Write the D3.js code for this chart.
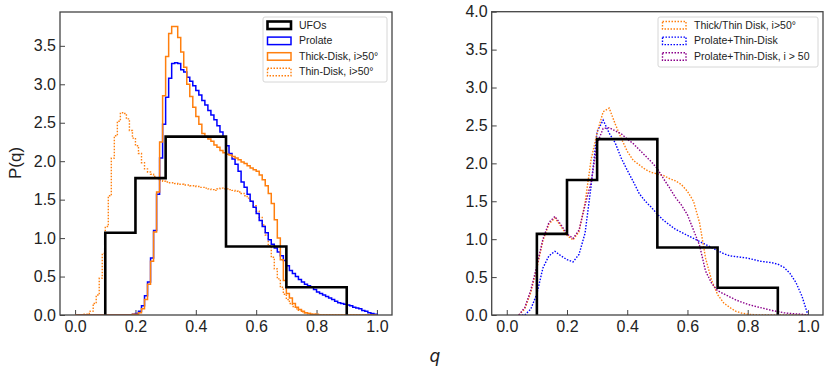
<!DOCTYPE html>
<html>
<head>
<meta charset="utf-8">
<script src="https://cdn.jsdelivr.net/npm/d3@7"></script>
<style>
  body { margin: 0; background: #fff; }
  text { font-family: "Liberation Sans", Arial, sans-serif; }
</style>
</head>
<body>
<svg id="chart" width="830" height="373"></svg>
<script>
// UFO histogram (variable bins)
const ufoEdges = [0.1, 0.2, 0.3, 0.5, 0.7, 0.9];
const ufoValues = [1.07, 1.78, 2.32, 0.89, 0.36];

// fine histograms, bins of width 0.01 from 0 to 1
const fineEdges = d3.range(101).map(i => i / 100);
const prolate = [
  0,0,0,0,0,0,0,0,0,0, 0,0,0,0,0,0,0,0,0,0.01,
  0.02,0.05,0.12,0.25,0.43,0.74,1.10,1.57,2.04,2.48,
  2.83,3.08,3.27,3.28,3.27,3.19,3.16,3.09,3.04,2.98,
  2.92,2.86,2.79,2.73,2.66,2.60,2.54,2.46,2.38,2.31,
  2.20,2.10,2.03,1.96,1.87,1.73,1.66,1.57,1.48,1.40,
  1.32,1.23,1.15,1.07,0.98,0.92,0.87,0.82,0.77,0.71,
  0.64,0.58,0.54,0.50,0.46,0.43,0.40,0.38,0.36,0.33,
  0.30,0.28,0.26,0.24,0.22,0.20,0.18,0.16,0.15,0.14,
  0.13,0.12,0.10,0.09,0.08,0.06,0.05,0.03,0.02,0.01
];
const thickDisk = [
  0,0,0,0,0,0,0,0,0,0, 0,0,0,0,0,0,0,0,0,0.01,
  0.01,0.03,0.08,0.20,0.40,0.70,1.08,1.60,2.25,2.85,
  3.36,3.66,3.75,3.75,3.61,3.42,3.22,3.00,2.84,2.70,
  2.58,2.48,2.36,2.32,2.29,2.26,2.21,2.18,2.14,2.11,
  2.09,2.08,2.06,2.04,2.02,1.99,1.97,1.94,1.91,1.89,
  1.87,1.82,1.76,1.68,1.58,1.45,1.24,1.00,0.72,0.45,
  0.28,0.22,0.15,0.10,0.07,0.05,0.03,0.02,0.01,0.01,
  0,0,0,0,0,0,0,0,0,0, 0,0,0,0,0,0,0,0,0,0
];
const thinDisk = [
  0,0,0,0.01,0.02,0.05,0.15,0.26,0.48,0.80,
  1.15,1.55,2.04,2.33,2.52,2.63,2.62,2.55,2.40,2.30,
  2.20,2.10,1.98,1.90,1.86,1.83,1.80,1.77,1.75,1.74,
  1.73,1.72,1.72,1.71,1.70,1.70,1.69,1.69,1.68,1.68,
  1.67,1.66,1.66,1.65,1.64,1.63,1.62,1.64,1.65,1.64,
  1.64,1.63,1.62,1.61,1.60,1.58,1.55,1.52,1.48,1.42,
  1.35,1.27,1.17,1.04,0.90,0.75,0.60,0.47,0.36,0.27,
  0.20,0.15,0.11,0.08,0.06,0.04,0.03,0.02,0.01,0.01,
  0.01,0,0,0,0,0,0,0,0,0, 0,0,0,0,0,0,0,0,0,0
];

// right panel curves, sampled every 0.02 in q
const qRight = d3.range(49).map(i => 0.04 + i * 0.02);
const mixDisk = [
  0,0.08,0.30,0.62,0.98,1.20,1.28,1.17,1.05,0.99,
  1.10,1.48,2.05,2.40,2.68,2.73,2.52,2.33,2.16,2.04,
  1.98,1.92,1.88,1.86,1.84,1.80,1.77,1.72,1.63,1.50,
  1.22,0.75,0.46,0.27,0.16,0.10,0.05,0.025,0.01,0.005,
  0,0,0,0,0,0,0,0,0
];
const prolThin = [
  0,0,0.08,0.28,0.62,0.78,0.84,0.78,0.73,0.70,
  0.80,1.08,1.70,2.42,2.57,2.40,2.27,2.07,1.91,1.76,
  1.60,1.50,1.42,1.33,1.25,1.19,1.13,1.09,1.05,1.01,
  0.97,0.93,0.89,0.85,0.81,0.78,0.77,0.76,0.75,0.73,
  0.71,0.70,0.69,0.67,0.63,0.55,0.43,0.25,0
];
const prolThinI50 = [
  0,0.10,0.33,0.65,1.00,1.22,1.30,1.19,1.07,1.01,
  1.12,1.45,1.75,2.26,2.46,2.47,2.43,2.39,2.32,2.26,
  2.18,2.10,2.02,1.93,1.80,1.68,1.55,1.45,1.32,1.12,
  0.92,0.58,0.42,0.32,0.28,0.24,0.20,0.17,0.14,0.12,
  0.10,0.08,0.06,0.045,0.03,0.02,0.015,0.01,0
];

const xTicks = [0, 0.2, 0.4, 0.6, 0.8, 1.0];
const yTicksLeft = [0, 0.5, 1.0, 1.5, 2.0, 2.5, 3.0, 3.5];
const yTicksRight = [0, 0.5, 1.0, 1.5, 2.0, 2.5, 3.0, 3.5, 4.0];

const BLUE = "#0000ff", ORANGE = "#ff7f0e", PURPLE = "#8b008b";

const svg = d3.select("#chart");

function stepPath(edges, vals, x, y) {
  const pts = [[x(edges[0]), y(0)]];
  vals.forEach((v, i) => {
    pts.push([x(edges[i]), y(v)]);
    pts.push([x(edges[i + 1]), y(v)]);
  });
  pts.push([x(edges[edges.length - 1]), y(0)]);
  return d3.line()(pts);
}

function panel(x, y, yTicks) {
  const g = svg.append("g");
  const [x0, x1] = x.range();
  const [y0, y1] = y.range();
  g.append("clipPath").attr("id", "clip" + Math.round(x0))
    .append("rect").attr("x", x0).attr("y", y1).attr("width", x1 - x0).attr("height", y0 - y1);

  const xa = g.append("g").attr("transform", `translate(0,${y0})`)
    .call(d3.axisBottom(x).tickValues(xTicks).tickFormat(d3.format(".1f"))
      .tickSizeInner(-5).tickSizeOuter(0).tickPadding(6));
  const ya = g.append("g").attr("transform", `translate(${x0},0)`)
    .call(d3.axisLeft(y).tickValues(yTicks).tickFormat(d3.format(".1f"))
      .tickSizeInner(-5).tickSizeOuter(0).tickPadding(4));
  [xa, ya].forEach(a => {
    a.select(".domain").remove();
    a.selectAll(".tick line").attr("stroke", "#444").attr("stroke-width", 1);
    a.selectAll(".tick text").attr("fill", "#222").style("font-size", "16px")
      .style("font-family", "'Liberation Sans', Arial, sans-serif");
  });
  const plot = g.append("g").attr("clip-path", `url(#clip${Math.round(x0)})`);
  g.append("rect").attr("x", x0).attr("y", y1).attr("width", x1 - x0).attr("height", y0 - y1)
    .attr("fill", "none").attr("stroke", "#444").attr("stroke-width", 1.3);
  return plot;
}

function legend(x, y, w, h, items) {
  const g = svg.append("g").attr("transform", `translate(${x},${y})`);
  g.append("rect").attr("width", w).attr("height", h).attr("rx", 2)
    .attr("fill", "#fff").attr("fill-opacity", 0.85).attr("stroke", "#d6d6d6").attr("stroke-width", 1);
  items.forEach((it, i) => {
    const cy = 8 + i * 15.6;
    g.append("rect").attr("x", 4.5).attr("y", cy - 3.5).attr("width", 23.5).attr("height", 7.5)
      .attr("fill", "none").attr("stroke", it.color).attr("stroke-width", it.width)
      .attr("stroke-dasharray", it.dash || null);
    g.append("text").attr("x", 36).attr("y", cy).attr("dy", "0.35em")
      .style("font-size", "10.5px").attr("fill", "#222").text(it.label);
  });
}

// ---- left panel
const xL = d3.scaleLinear().domain([-0.05, 1.05]).range([60, 392]);
const yL = d3.scaleLinear().domain([0, 3.94]).range([315, 12]);
const pL = panel(xL, yL, yTicksLeft);

pL.append("path").attr("d", stepPath(fineEdges, thinDisk, xL, yL))
  .attr("fill", "none").attr("stroke", ORANGE).attr("stroke-width", 1.4).attr("stroke-dasharray", "1.5,1.5");
pL.append("path").attr("d", stepPath(fineEdges, prolate, xL, yL))
  .attr("fill", "none").attr("stroke", BLUE).attr("stroke-width", 1.5);
pL.append("path").attr("d", stepPath(fineEdges, thickDisk, xL, yL))
  .attr("fill", "none").attr("stroke", ORANGE).attr("stroke-width", 1.5);
pL.append("path").attr("d", stepPath(ufoEdges, ufoValues, xL, yL))
  .attr("fill", "none").attr("stroke", "#000").attr("stroke-width", 2.6);

legend(263, 17, 124, 65, [
  { label: "UFOs", color: "#000", width: 2.6 },
  { label: "Prolate", color: BLUE, width: 1.5 },
  { label: "Thick-Disk, i>50°", color: ORANGE, width: 1.5 },
  { label: "Thin-Disk, i>50°", color: ORANGE, width: 1.4, dash: "1.5,1.5" }
]);

svg.append("text").attr("transform", "translate(21,163) rotate(-90)")
  .attr("text-anchor", "middle").style("font-size", "17px").attr("fill", "#222").text("P(q)");

// ---- right panel
const xR = d3.scaleLinear().domain([-0.05, 1.05]).range([491.7, 823]);
const yR = d3.scaleLinear().domain([0, 4]).range([315, 11.7]);
const pR = panel(xR, yR, yTicksRight);

const curve = d3.line().x((d, i) => xR(qRight[i])).y(d => yR(d));
pR.append("path").attr("d", curve(prolThin))
  .attr("fill", "none").attr("stroke", BLUE).attr("stroke-width", 1.4).attr("stroke-dasharray", "1.5,1.5");
pR.append("path").attr("d", curve(mixDisk))
  .attr("fill", "none").attr("stroke", ORANGE).attr("stroke-width", 1.4).attr("stroke-dasharray", "1.5,1.5");
pR.append("path").attr("d", curve(prolThinI50))
  .attr("fill", "none").attr("stroke", PURPLE).attr("stroke-width", 1.4).attr("stroke-dasharray", "1.5,1.5");
pR.append("path").attr("d", stepPath(ufoEdges, ufoValues, xR, yR))
  .attr("fill", "none").attr("stroke", "#000").attr("stroke-width", 2.6);

legend(658, 17, 160, 50, [
  { label: "Thick/Thin Disk, i>50°", color: ORANGE, width: 1.4, dash: "1.5,1.5" },
  { label: "Prolate+Thin-Disk", color: BLUE, width: 1.4, dash: "1.5,1.5" },
  { label: "Prolate+Thin-Disk, i > 50", color: PURPLE, width: 1.4, dash: "1.5,1.5" }
]);

svg.append("text").attr("x", 435).attr("y", 362).attr("text-anchor", "middle")
  .style("font-size", "17px").style("font-style", "italic")
  .style("font-family", "'DejaVu Sans', sans-serif").attr("fill", "#222").text("q");
</script>
</body>
</html>
